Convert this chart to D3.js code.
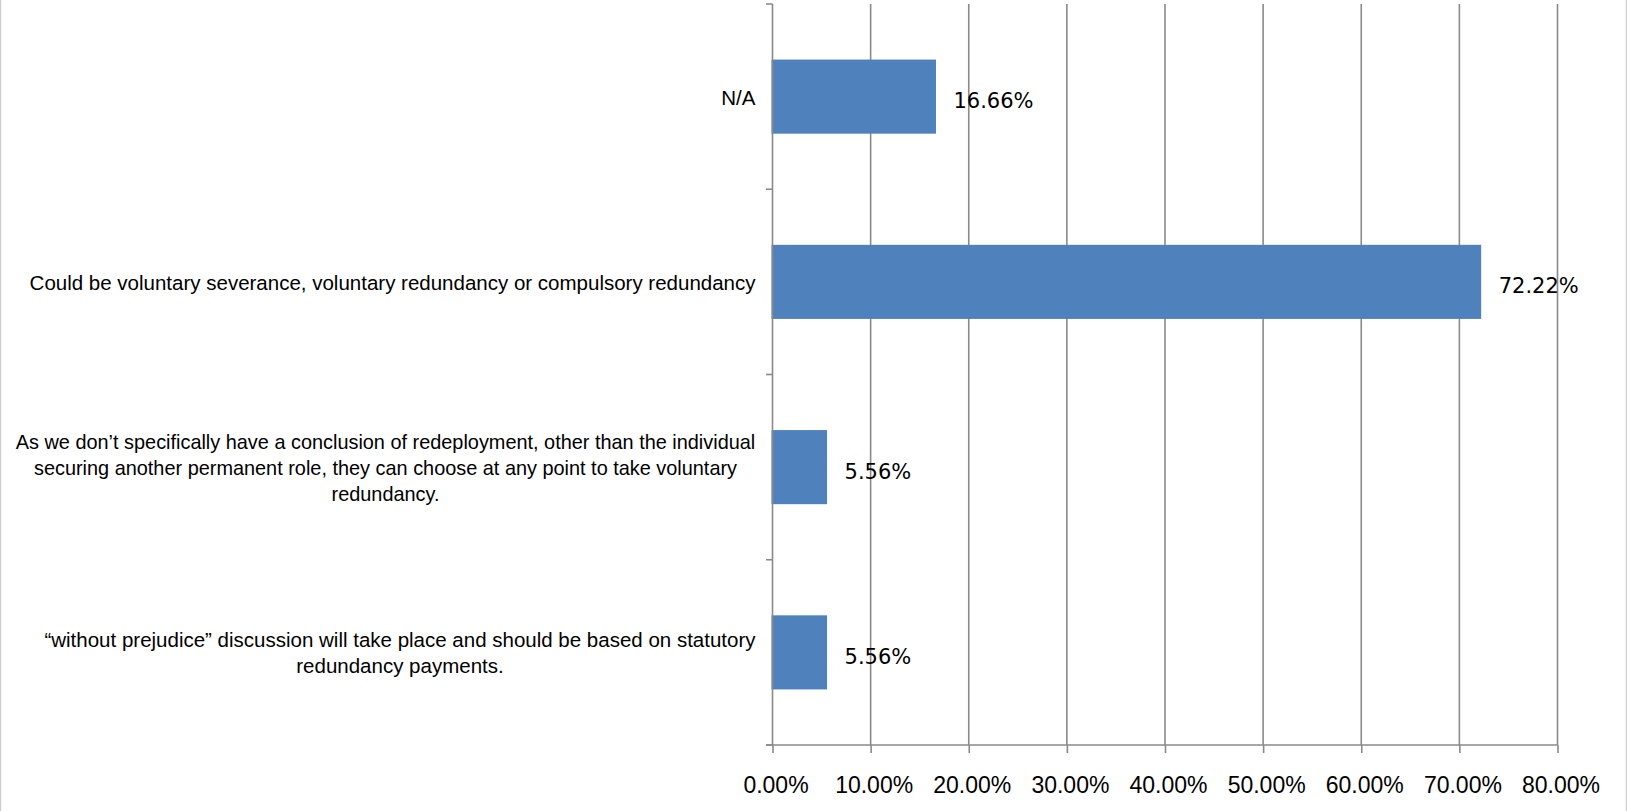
<!DOCTYPE html>
<html>
<head>
<meta charset="utf-8">
<script src="https://cdn.jsdelivr.net/npm/d3@7"></script>
<style>
  html, body { margin: 0; padding: 0; background: #fff; }
  svg { display: block; }
</style>
</head>
<body>
<div id="chart"></div>
<script>
"use strict";

// categories, top to bottom (line breaks as in the original chart)
const categories = [
    ["N/A"],
    ["Could be voluntary severance, voluntary redundancy or compulsory redundancy"],
    ["As we don\u2019t specifically have a conclusion of redeployment, other than the individual",
     "securing another permanent role, they can choose at any point to take voluntary",
     "redundancy."],
    ["\u201cwithout prejudice\u201d discussion will take place and should be based on statutory",
     "redundancy payments."]
];
const values = [16.66, 72.22, 5.56, 5.56];
const xTicks = [0, 10, 20, 30, 40, 50, 60, 70, 80];

const msm = {
    width: 1627,
    height: 811,
    left: 772.5,
    right: 1557.5,
    top: 4,
    bottom: 745
}
const gridColor = "#8a8a8a";
const barColor = "#4f81bd";

let svg = d3.select("#chart")
    .append("svg")
    .attr("width", msm.width)
    .attr("height", msm.height);

// outer chart border (only the sides show in the crop)
svg.append("rect")
    .attr("x", 0.5)
    .attr("y", -10)
    .attr("width", msm.width - 1)
    .attr("height", msm.height + 20)
    .attr("fill", "none")
    .attr("stroke", "#d0d0d0")
    .attr("stroke-width", 1.5);

let xScale = d3.scaleLinear()
    .domain([0, 80])
    .range([msm.left, msm.right]);

let keys = categories.map((c, i) => i);
let yScale = d3.scaleBand()
    .domain(keys)
    .range([msm.top, msm.bottom])
    .paddingInner(0.6)
    .paddingOuter(0.3);
let step = yScale.step();

// vertical gridlines
svg.append("g")
    .selectAll("line")
    .data(xTicks.slice(1))
    .enter()
    .append("line")
    .attr("x1", d => xScale(d))
    .attr("x2", d => xScale(d))
    .attr("y1", msm.top)
    .attr("y2", msm.bottom)
    .attr("stroke", gridColor)
    .attr("stroke-width", 1.6);

// bars
svg.append("g")
    .selectAll("rect")
    .data(values)
    .enter()
    .append("rect")
    .attr("x", xScale(0) - 1)
    .attr("y", (d, i) => yScale(i))
    .attr("width", d => xScale(d) - xScale(0) + 1)
    .attr("height", yScale.bandwidth())
    .attr("fill", barColor);

// x axis
let xAxis = d3.axisBottom(xScale)
    .tickValues(xTicks)
    .tickSize(8)
    .tickPadding(0)
    .tickFormat(d => d.toFixed(2) + "%");
let gx = svg.append("g")
    .attr("transform", "translate(0," + msm.bottom + ")")
    .call(xAxis);
gx.select(".domain").remove();
gx.append("line")
    .attr("x1", msm.left - 6.5)
    .attr("x2", msm.right)
    .attr("stroke", gridColor)
    .attr("stroke-width", 1.6);
gx.selectAll(".tick line")
    .attr("stroke", gridColor)
    .attr("stroke-width", 1.6);
gx.selectAll(".tick text")
    .attr("y", 48)
    .attr("dy", null)
    .attr("dx", 3)
    .attr("fill", "#000")
    .style("font-family", "'Liberation Sans', Arial, sans-serif")
    .style("font-size", "23px");

// y axis line and category boundary ticks
svg.append("line")
    .attr("x1", msm.left)
    .attr("x2", msm.left)
    .attr("y1", msm.top)
    .attr("y2", msm.bottom)
    .attr("stroke", gridColor)
    .attr("stroke-width", 1.6);
let boundaries = keys.map(i => msm.top + i * step).concat([msm.bottom]);
svg.append("g")
    .selectAll("line")
    .data(boundaries)
    .enter()
    .append("line")
    .attr("x1", msm.left - 6.5)
    .attr("x2", msm.left)
    .attr("y1", d => d)
    .attr("y2", d => d)
    .attr("stroke", gridColor)
    .attr("stroke-width", 1.6);

// category labels: each block centred on its widest line, right edge near the axis,
// squeezed sideways if the widest line is wider than the label area
const lineHeight = 26;
const labelRight = msm.left - 17;
const maxLabelW = 740;
categories.forEach((lines, i) => {
    let cy = yScale(i) + yScale.bandwidth() / 2;
    let g = svg.append("g");
    let texts = g.selectAll("text")
        .data(lines)
        .enter()
        .append("text")
        .attr("y", (d, j) => cy + 8 + (j - (lines.length - 1) / 2) * lineHeight)
        .attr("text-anchor", "middle")
        .attr("fill", "#000")
        .style("font-family", "'Liberation Sans', Arial, sans-serif")
        .style("font-size", "20.5px")
        .text(d => d);
    let maxW = d3.max(texts.nodes(), n => n.getComputedTextLength());
    let k = Math.min(1, maxLabelW / maxW);
    g.attr("transform", "translate(" + labelRight + ",0) scale(" + k + ",1)");
    texts.attr("x", -maxW / 2);
});

// value labels
svg.append("g")
    .selectAll("text")
    .data(values)
    .enter()
    .append("text")
    .attr("x", d => xScale(d) + 17.5)
    .attr("y", (d, i) => yScale(i) + yScale.bandwidth() / 2 + 11.5)
    .attr("fill", "#000")
    .style("font-family", "'DejaVu Sans', Verdana, sans-serif")
    .style("font-size", "21px")
    .text(d => d.toFixed(2) + "%");
</script>
</body>
</html>
